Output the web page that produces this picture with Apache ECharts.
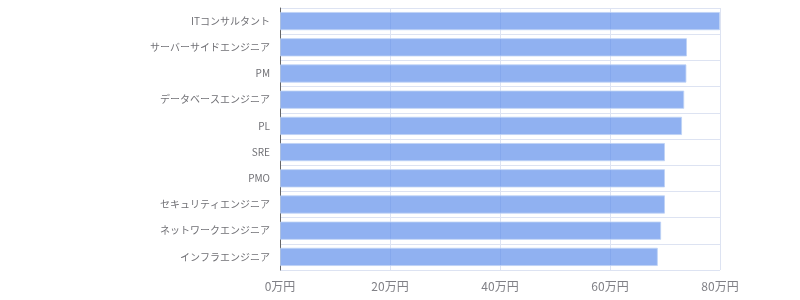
<!DOCTYPE html>
<html><head><meta charset="utf-8">
<script src="https://cdn.jsdelivr.net/npm/echarts@6/dist/echarts.min.js"></script>
<style>html,body{margin:0;padding:0;background:#fff}#c{width:800px;height:300px}</style>
</head><body><div id="c"></div>
<script>
const categories = ['ITコンサルタント','サーバーサイドエンジニア','PM','データベースエンジニア','PL','SRE','PMO','セキュリティエンジニア','ネットワークエンジニア','インフラエンジニア'];
const values = [80, 74.0, 73.9, 73.5, 73.1, 70.0, 70.0, 70.0, 69.3, 68.7];
const xTicks = [0, 20, 40, 60, 80];
const chart = echarts.init(document.getElementById('c'));
chart.setOption({
  animation: false,
  grid: {left: 280, right: 80, top: 8, bottom: 30},
  xAxis: {
    type: 'value', min: xTicks[0], max: xTicks[xTicks.length-1], interval: 20,
    axisLine: {show: false}, axisTick: {show: false},
    axisLabel: {formatter: v => v + '万円', color: '#808086', fontSize: 12, margin: 10, fontFamily: 'Noto Sans CJK JP'},
    splitLine: {lineStyle: {color: '#dde3f2', width: 1}}
  },
  yAxis: {
    type: 'category', data: categories, inverse: true,
    axisLine: {lineStyle: {color: '#666'}},
    axisTick: {lineStyle: {color: '#666'}, length: 5},
    axisLabel: {color: '#707075', fontSize: 10, margin: 10, fontFamily: 'Noto Sans CJK JP'},
    splitLine: {show: true, lineStyle: {color: '#dde3f2'}}
  },
  series: [{
    type: 'bar', data: values, barCategoryGap: '30%',
    itemStyle: {color: 'rgba(91,140,235,0.68)', borderColor: 'rgba(190,210,245,0.8)', borderWidth: 1}
  }]
});
</script></body></html>
